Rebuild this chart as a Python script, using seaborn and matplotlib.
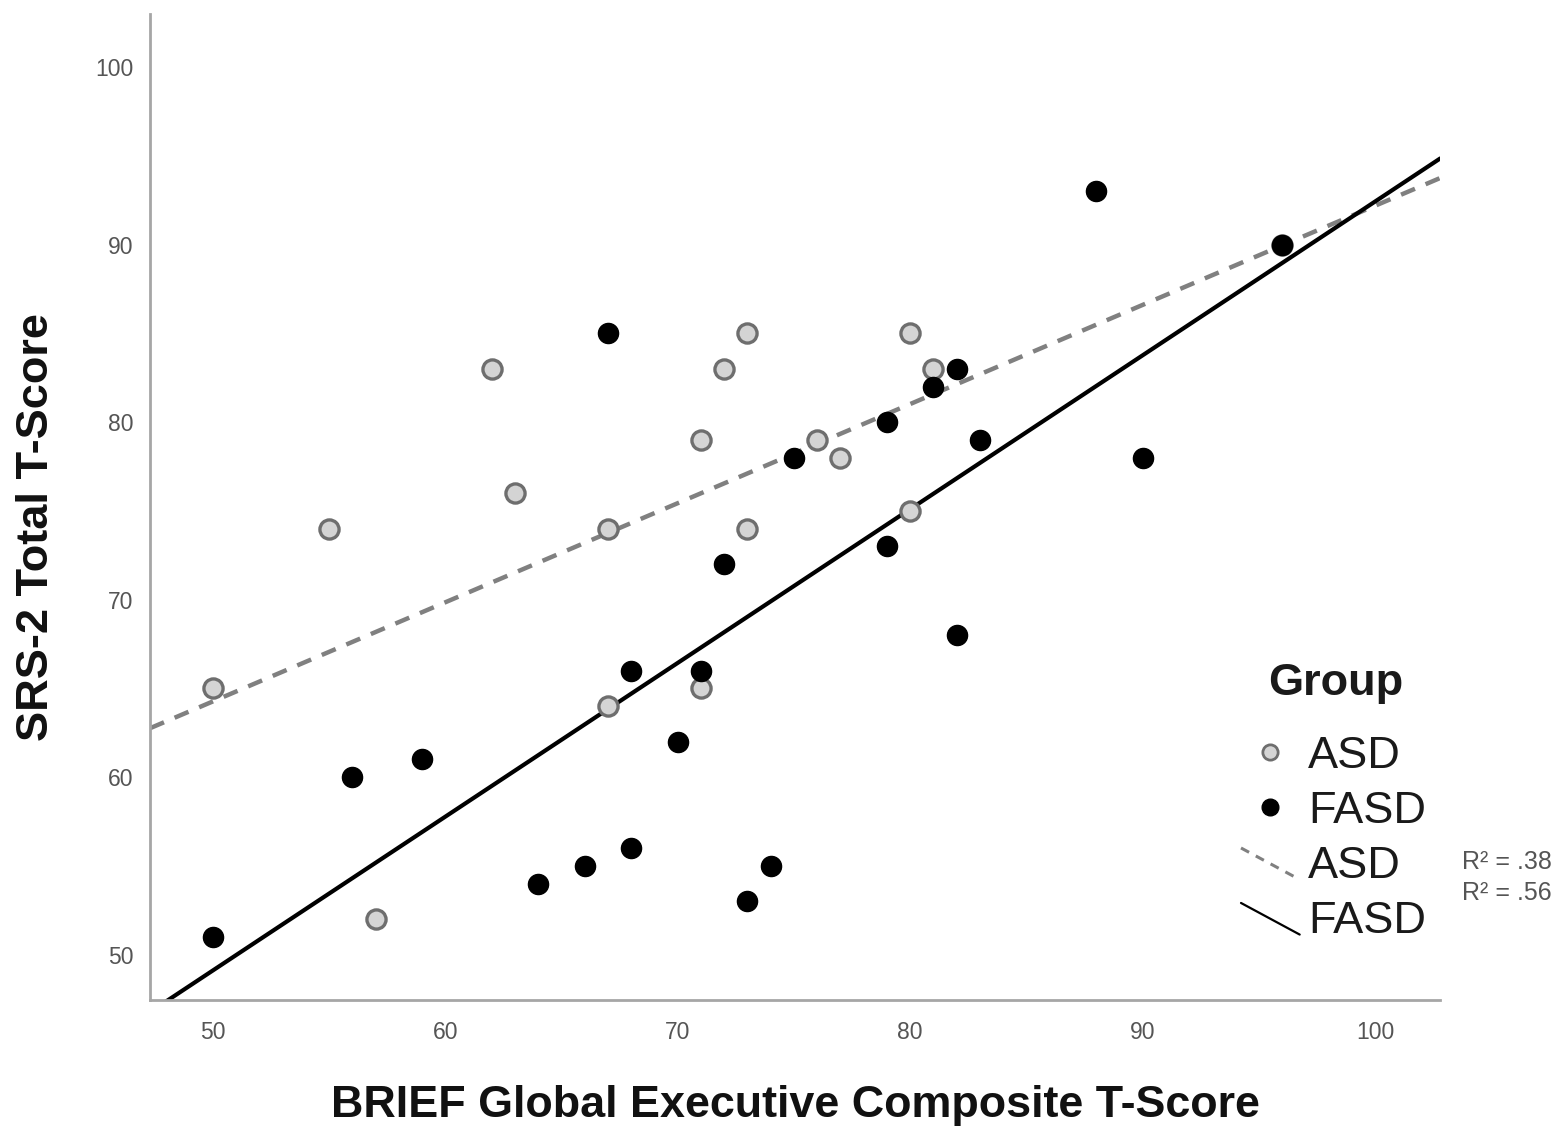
import numpy as np
import pandas as pd
import matplotlib
matplotlib.use("Agg")
import matplotlib.pyplot as plt
import seaborn as sns
from matplotlib.lines import Line2D
from matplotlib.legend_handler import HandlerBase

# valeurs
asd_brief = [50, 55, 57, 62, 63, 67, 67, 71, 71, 72, 73, 73, 76, 77, 80, 80, 81, 96]
asd_srs = [65, 74, 52, 83, 76, 74, 64, 79, 65, 83, 85, 74, 79, 78, 85, 75, 83, 90]
fasd_brief = [50, 56, 59, 64, 66, 67, 68, 68, 70, 71, 72, 73, 74, 75, 79, 79, 81, 82, 82, 83, 88, 90, 96]
fasd_srs = [51, 60, 61, 54, 55, 85, 56, 66, 62, 66, 72, 53, 55, 78, 80, 73, 82, 83, 68, 79, 93, 78, 90]
groups = ["ASD", "FASD"]
r2_labels = ["R\u00b2 = .38", "R\u00b2 = .56"]
x_ticks = [50, 60, 70, 80, 90, 100]
y_ticks = [50, 60, 70, 80, 90, 100]

ASD_EDGE = "#6e6e6e"
ASD_FILL = "#d4d4d4"
ASD_LINE = "#808080"


class DiagonalHandler(HandlerBase):
    # petite ligne en diagonale dans la légende, comme dans SPSS
    def create_artists(self, legend, orig_handle, xdescent, ydescent,
                       width, height, fontsize, trans):
        line = Line2D([-xdescent, -xdescent + width],
                      [-ydescent + height * 0.95, -ydescent - height * 0.05])
        line.update_from(orig_handle)
        line.set_transform(trans)
        return [line]


def build_data():
    asd = pd.DataFrame({"brief": asd_brief, "srs": asd_srs, "Group": groups[0]})
    fasd = pd.DataFrame({"brief": fasd_brief, "srs": fasd_srs, "Group": groups[1]})
    return pd.concat([asd, fasd], ignore_index=True)


def make_plot(df):
    sns.set_theme(style="white")
    plt.rcParams["font.family"] = ["Liberation Sans", "DejaVu Sans"]

    fig = plt.figure(figsize=(15.6, 11.27), dpi=100)
    ax = fig.add_axes([0.0962, 0.1127, 0.827, 0.875])
    xlim = (47.3, 102.8)
    ylim = (47.45, 103)
    ax.set_xlim(*xlim)
    ax.set_ylim(*ylim)

    asd = df[df["Group"] == "ASD"]
    fasd = df[df["Group"] == "FASD"]

    # droites de régression sur toute la largeur
    sns.regplot(data=asd, x="brief", y="srs", scatter=False, ci=None, truncate=False,
                ax=ax, line_kws=dict(color=ASD_LINE, lw=3.2, dashes=(3.4, 2.6), zorder=2))
    sns.regplot(data=fasd, x="brief", y="srs", scatter=False, ci=None, truncate=False,
                ax=ax, line_kws=dict(color="black", lw=3, zorder=2))

    sns.scatterplot(data=asd, x="brief", y="srs", ax=ax, s=190, color=ASD_FILL,
                    edgecolor=ASD_EDGE, linewidth=2.4, zorder=3, legend=False)
    sns.scatterplot(data=fasd, x="brief", y="srs", ax=ax, s=210, color="black",
                    edgecolor="black", linewidth=1, zorder=4, legend=False)

    ax.set_xlim(*xlim)
    ax.set_ylim(*ylim)
    ax.set_xticks(x_ticks)
    ax.set_yticks(y_ticks)
    ax.tick_params(length=0, labelsize=16.5, labelcolor="#555555")
    ax.tick_params(axis="x", pad=15)
    ax.tick_params(axis="y", pad=12)

    for side in ["top", "right"]:
        ax.spines[side].set_visible(False)
    for side in ["left", "bottom"]:
        ax.spines[side].set_color("#a6a6a6")
        ax.spines[side].set_linewidth(2)

    ax.set_xlabel("BRIEF Global Executive Composite T-Score", fontsize=32.3,
                  fontweight="bold", color="#111111")
    ax.set_ylabel("SRS-2 Total T-Score", fontsize=32.5, fontweight="bold", color="#111111")
    ax.xaxis.set_label_coords(0.5, -0.086)
    ax.yaxis.set_label_coords(-0.072, 0.48)

    # légende
    h_asd_pt = Line2D([], [], ls="none", marker="o", markersize=11,
                      markerfacecolor=ASD_FILL, markeredgecolor=ASD_EDGE, markeredgewidth=2)
    h_fasd_pt = Line2D([], [], ls="none", marker="o", markersize=12, color="black")
    h_asd_ln = Line2D([], [], color=ASD_LINE, lw=2.2, dashes=(3, 2.5))
    h_fasd_ln = Line2D([], [], color="black", lw=1.6)
    ax.legend(handles=[h_asd_pt, h_fasd_pt, h_asd_ln, h_fasd_ln],
              labels=[groups[0], groups[1], groups[0], groups[1]],
              handler_map={h_asd_ln: DiagonalHandler(), h_fasd_ln: DiagonalHandler()},
              fontsize=32.5, frameon=False, loc="upper left",
              bbox_to_anchor=(1241 / 1560, 1 - 736 / 1127), bbox_transform=fig.transFigure,
              handlelength=1.3, handletextpad=0.18, labelspacing=0.31,
              borderpad=0, borderaxespad=0, labelcolor="#1a1a1a")
    fig.text(1336 / 1560, 1 - 683 / 1127, "Group", fontsize=32.5, fontweight="bold",
             color="#1a1a1a", ha="center", va="center")

    fig.text(1462 / 1560, 1 - 862 / 1127, r2_labels[0], fontsize=18,
             color="#555555", va="center")
    fig.text(1462 / 1560, 1 - 893 / 1127, r2_labels[1], fontsize=18,
             color="#555555", va="center")

    fig.savefig("out.png", dpi=100)
    plt.close(fig)


if __name__ == "__main__":
    make_plot(build_data())
